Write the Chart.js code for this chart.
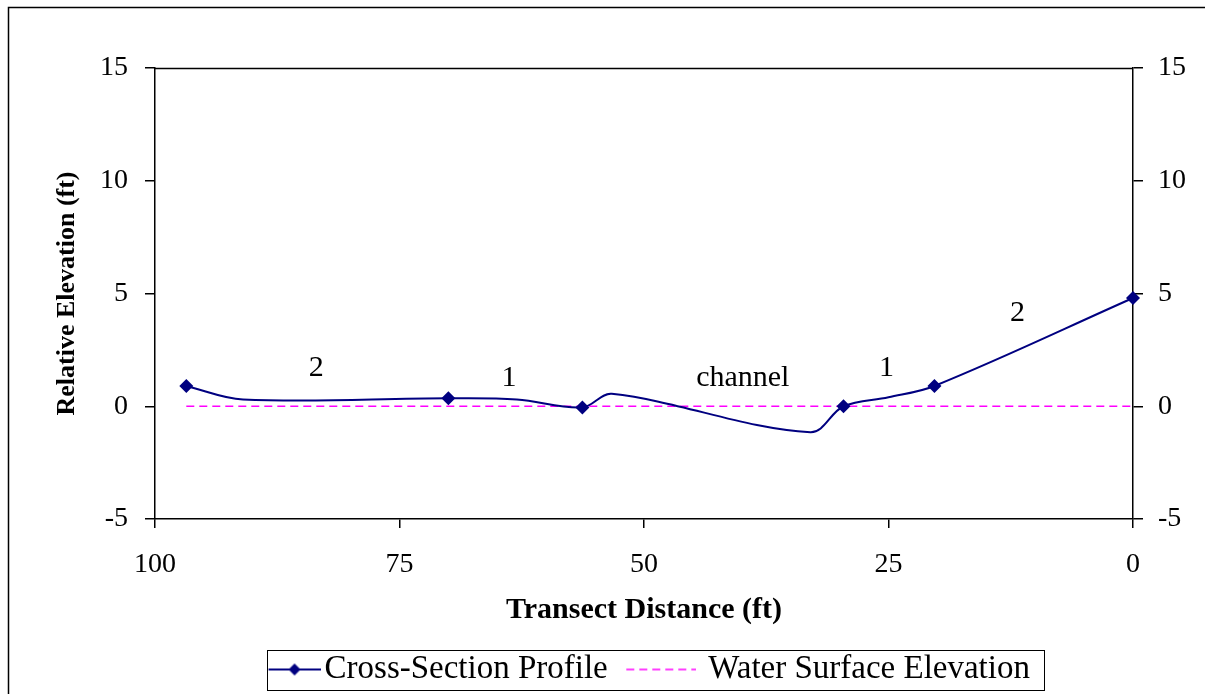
<!DOCTYPE html>
<html>
<head>
<meta charset="utf-8">
<script src="https://cdn.jsdelivr.net/npm/chart.js@4/dist/chart.umd.min.js"></script>
<style>
  html, body { margin: 0; padding: 0; background: #fff; }
  #wrap { width: 1205px; height: 694px; position: relative; }
</style>
</head>
<body>
<div id="wrap"><canvas id="c"></canvas></div>
<script>
// surveyed cross-section (distance in ft, elevation in ft)
const profileDist = [96.8, 91, 70, 63, 56.3, 53.3, 33, 29.6, 25, 20.3, 0];
const profileElev = [0.9, 0.3, 0.35, 0.3, -0.05, 0.55, -1.15, 0, 0.4, 0.9, 4.8];
const profileMarked = [true, false, true, false, true, false, false, true, false, true, true];

const waterDist = [96.8, 0];
const waterElev = [0, 0];

// zone labels on the plot
const zoneText = ["2", "1", "channel", "1", "2"];
const zoneDist = [83.5, 63.8, 39.9, 25.2, 11.8];
const zoneElev = [1.7, 1.25, 1.25, 1.7, 4.15];

const xTicks = [100, 75, 50, 25, 0];
const yTicks = [-5, 0, 5, 10, 15];

const FONT = "'Liberation Serif', 'Times New Roman', serif";
const LEG_W = 65;     // legend symbol slot
const LEG_SHIFT = 34; // legend sits a bit right of centre

// legend icons (centred on the slot, so padding is baked in)
function makeIcon(w, h, drawFn) {
  const cv = document.createElement("canvas");
  cv.width = w; cv.height = h;
  drawFn(cv.getContext("2d"), w, h);
  return cv;
}
const profileIcon = makeIcon(90, 16, (g, w, h) => {
  g.strokeStyle = "#000080"; g.lineWidth = 2;
  g.beginPath(); g.moveTo(38, h / 2); g.lineTo(90, h / 2); g.stroke();
  g.fillStyle = "#000080";
  const cx = 64;
  g.beginPath();
  g.moveTo(cx, h / 2 - 6); g.lineTo(cx + 6, h / 2);
  g.lineTo(cx, h / 2 + 6); g.lineTo(cx - 6, h / 2);
  g.closePath(); g.fill();
});
const waterIcon = makeIcon(74, 16, (g, w, h) => {
  g.strokeStyle = "#FF00FF"; g.lineWidth = 1.5;
  g.setLineDash([8, 5]);
  g.beginPath(); g.moveTo(4, h / 2); g.lineTo(74, h / 2); g.stroke();
});

const frame = {
  id: "frame",
  afterLayout(chart) {
    chart.legend.left += LEG_SHIFT;
    chart.legend.right += LEG_SHIFT;
  },
  beforeDraw(chart) {
    const g = chart.ctx;
    g.save();
    g.fillStyle = "#fff";
    g.fillRect(0, 0, chart.width, chart.height);
    g.strokeStyle = "#000"; g.lineWidth = 1.5;
    g.strokeRect(8.5, 7.5, 1400, 900);
    g.restore();
  },
  afterDraw(chart) {
    const g = chart.ctx;
    const a = chart.chartArea;
    g.save();
    g.strokeStyle = "#000"; g.lineWidth = 1.5;
    g.beginPath(); g.moveTo(a.left, a.top + 0.5); g.lineTo(a.right, a.top + 0.5); g.stroke();
    // legend box
    const hb = chart.legend.legendHitBoxes;
    if (hb && hb.length) {
      const l = hb[0].left + 24;
      const r = hb[hb.length - 1].left + hb[hb.length - 1].width + 14;
      const t = hb[0].top - 3;
      const b = hb[0].top + hb[0].height + 4;
      g.lineWidth = 1;
      g.strokeRect(Math.round(l) + 0.5, Math.round(t) + 0.5, Math.round(r - l), Math.round(b - t));
    }
    g.restore();
  },
  afterDatasetsDraw(chart) {
    const g = chart.ctx;
    const sx = chart.scales.x, sy = chart.scales.y;
    g.save();
    g.font = "30px " + FONT;
    g.fillStyle = "#000";
    g.textAlign = "center";
    g.textBaseline = "middle";
    zoneText.forEach((t, i) => {
      g.fillText(t, sx.getPixelForValue(zoneDist[i]), sy.getPixelForValue(zoneElev[i]));
    });
    g.restore();
  }
};

new Chart(document.getElementById("c"), {
  type: "line",
  data: {
    datasets: [
      {
        label: "Cross-Section Profile",
        data: profileDist.map((d, i) => ({ x: d, y: profileElev[i] })),
        borderColor: "#000080",
        backgroundColor: "#000080",
        borderWidth: 2,
        tension: 0.35,
        pointStyle: "rectRot",
        pointRadius: profileMarked.map(m => (m ? 7 : 0)),
        pointBorderWidth: 0,
        clip: false,
        yAxisID: "y",
        order: 1
      },
      {
        label: "Water Surface Elevation",
        data: waterDist.map((d, i) => ({ x: d, y: waterElev[i] })),
        borderColor: "#FF00FF",
        borderWidth: 1.5,
        borderDash: [8, 5],
        pointRadius: 0,
        yAxisID: "y",
        order: 2
      }
    ]
  },
  options: {
    responsive: true,
    maintainAspectRatio: false,
    animation: false,
    layout: { autoPadding: false, padding: { left: 0, right: 0, top: 68, bottom: 0 } },
    plugins: {
      tooltip: { enabled: false },
      legend: {
        position: "bottom",
        maxHeight: 60,
        labels: {
          usePointStyle: true,
          pointStyleWidth: LEG_W,
          padding: 19,
          color: "#000",
          font: { family: FONT, size: 33 },
          generateLabels: () => [
            { text: "Cross-Section Profile", pointStyle: profileIcon, fillStyle: "#000080", strokeStyle: "#000080", lineWidth: 0, datasetIndex: 0 },
            { text: "Water Surface Elevation", pointStyle: waterIcon, fillStyle: "#FF00FF", strokeStyle: "#FF00FF", lineWidth: 0, datasetIndex: 1 }
          ]
        }
      }
    },
    scales: {
      x: {
        type: "linear",
        reverse: true,
        min: 0,
        max: 100,
        afterBuildTicks: s => { s.ticks = xTicks.map(v => ({ value: v })); },
        afterFit: s => { s.height = 694 - 519 - s.chart.legend.height; },
        border: { display: true, color: "#000", width: 1.5 },
        grid: { drawOnChartArea: false, drawTicks: true, tickLength: 9, color: "#000", lineWidth: 1.5 },
        ticks: { color: "#000", padding: 20, font: { family: FONT, size: 28 }, maxRotation: 0 },
        title: {
          display: true,
          text: "Transect Distance (ft)",
          color: "#000",
          font: { family: FONT, size: 30, weight: "bold" },
          padding: { top: 0, bottom: 6 }
        }
      },
      y: {
        position: "left",
        min: -5,
        max: 15,
        afterBuildTicks: s => { s.ticks = yTicks.map(v => ({ value: v })); },
        afterFit: s => { s.width = 155; },
        border: { display: true, color: "#000", width: 1.5 },
        grid: { drawOnChartArea: false, drawTicks: true, tickLength: 10, color: "#000", lineWidth: 1.5 },
        ticks: { color: "#000", padding: 17, font: { family: FONT, size: 28 } },
        title: {
          display: true,
          text: "Relative Elevation (ft)",
          color: "#000",
          font: { family: FONT, size: 26, weight: "bold" },
          padding: { top: 52, bottom: 0 }
        }
      },
      y2: {
        position: "right",
        min: -5,
        max: 15,
        afterBuildTicks: s => { s.ticks = yTicks.map(v => ({ value: v })); },
        afterFit: s => { s.width = 72; },
        border: { display: true, color: "#000", width: 1.5 },
        grid: { drawOnChartArea: false, drawTicks: true, tickLength: 10, color: "#000", lineWidth: 1.5 },
        ticks: { color: "#000", padding: 15, font: { family: FONT, size: 28 } }
      }
    }
  },
  plugins: [frame]
});
</script>
</body>
</html>
